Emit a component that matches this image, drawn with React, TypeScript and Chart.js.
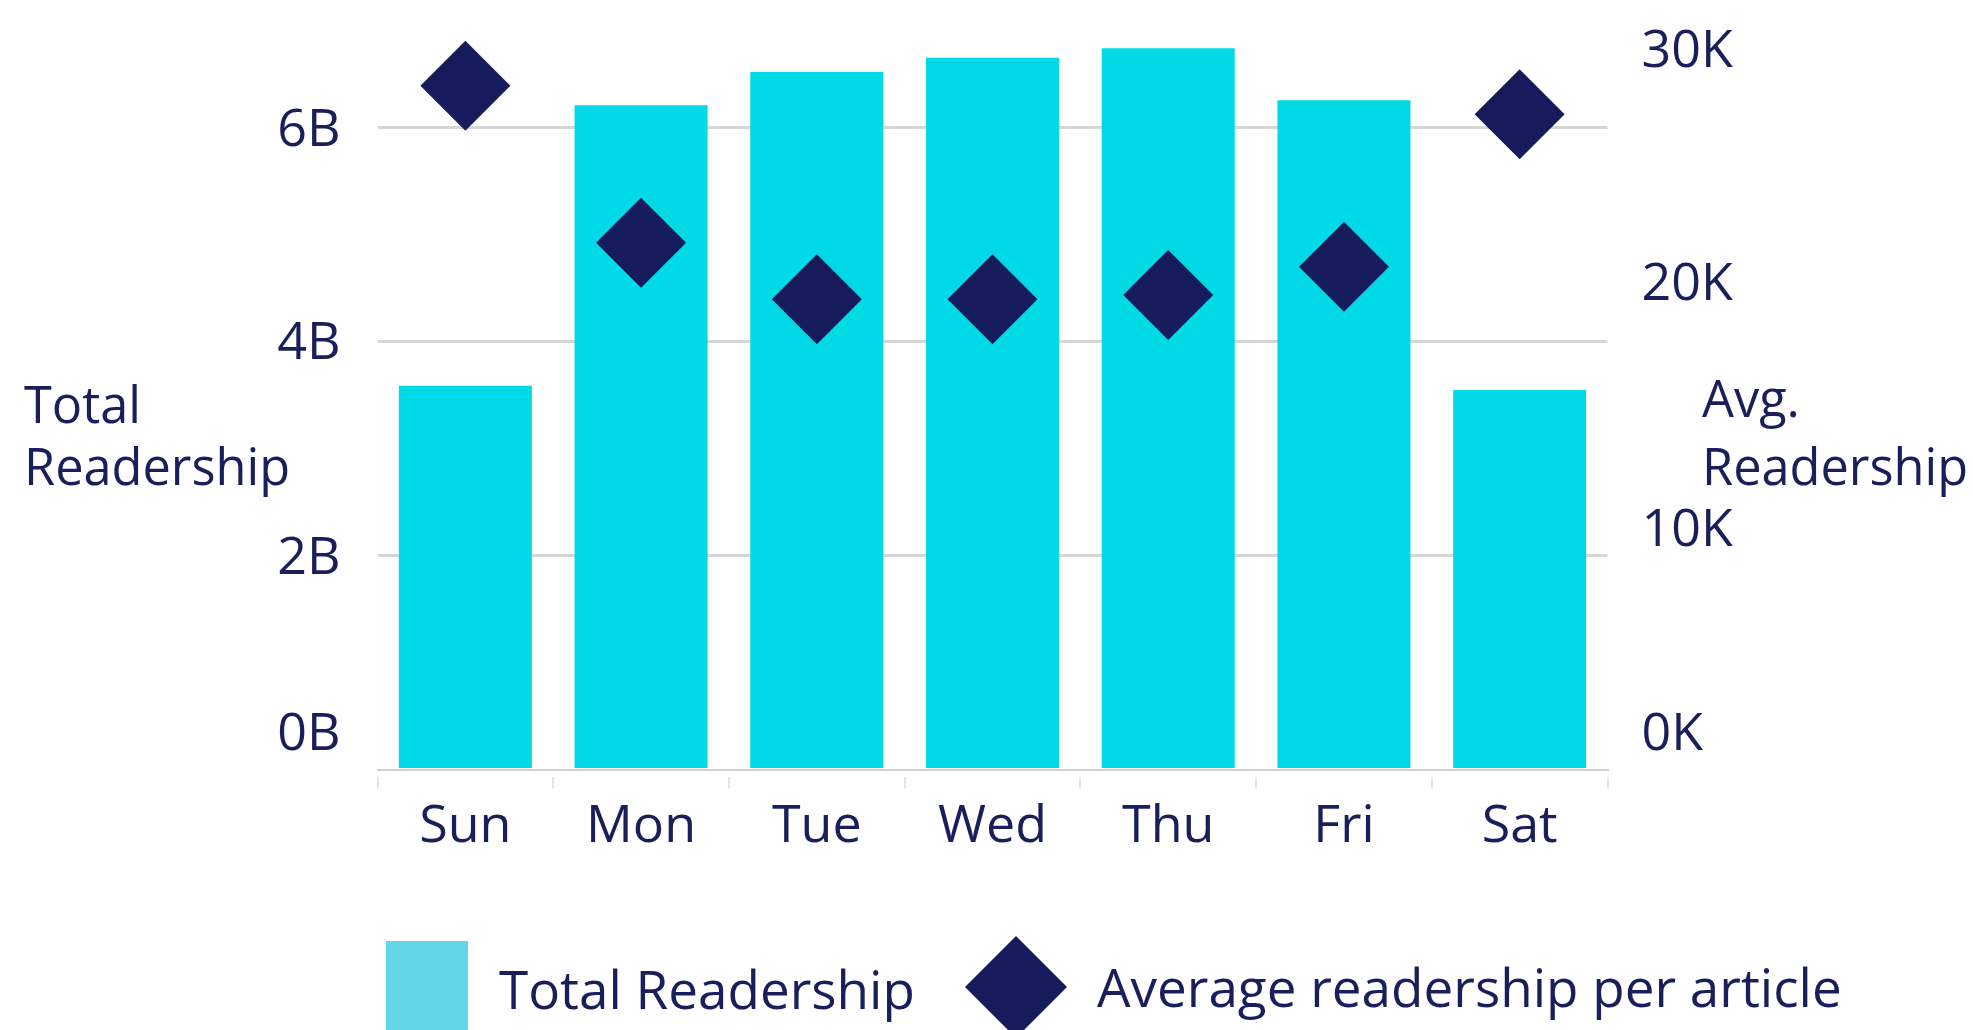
import React, { useEffect, useRef } from 'react';
import { Chart, registerables } from 'chart.js';

Chart.register(...registerables);

const days = ['Sun', 'Mon', 'Tue', 'Wed', 'Thu', 'Fri', 'Sat'];
const totalReadership = [3.587e9, 6.207e9, 6.519e9, 6.652e9, 6.74e9, 6.254e9, 3.547e9];
const avgReadership = [28080, 21630, 19310, 19310, 19490, 20650, 26910];
const leftTicks = [0, 2e9, 4e9, 6e9];
const rightTicks = [0, 10000, 20000, 30000];
const leftTitle = ['Total', 'Readership'];
const rightTitle = ['Avg.', 'Readership'];
const seriesLabels = ['Total Readership', 'Average readership per article'];

const NAVY = '#1a1f5c';
const DIAMOND = '#161c5b';
const CYAN = '#00d9e6';
const CYAN_LEGEND = '#62d7e5';
const FAMILY = '"Open Sans", "Noto Sans", sans-serif';
const FONT_SIZE = 52;
const TITLE_SIZE = 50.5;
const LEGEND_SIZE = 53;

// vertical nudges (px, positive = down) applied to tick labels, mimicking the original's label placement
const leftLabelShift: Record<number, number> = { 0: -34, 2e9: 4, 4e9: 3, 6e9: 4 };
const rightLabelShift: Record<number, number> = { 0: -34, 10000: 5, 20000: 2.5, 30000: 13 };

const overlayPlugin = {
  id: 'overlayTexts',
  afterDraw(chart: any) {
    const ctx = chart.ctx;
    ctx.save();
    ctx.fillStyle = NAVY;
    ctx.textBaseline = 'middle';
    ctx.textAlign = 'left';
    // axis titles
    ctx.font = `${TITLE_SIZE}px ${FAMILY}`;
    ctx.fillText(leftTitle[0], 24, 409);
    ctx.fillText(leftTitle[1], 24, 471);
    ctx.fillText(rightTitle[0], 1702, 403);
    ctx.fillText(rightTitle[1], 1702, 471);
    // legend
    ctx.font = `${LEGEND_SIZE}px ${FAMILY}`;
    const ds = chart.data.datasets;
    ctx.fillStyle = CYAN_LEGEND;
    ctx.fillRect(386, 941, 82, 100);
    ctx.fillStyle = NAVY;
    ctx.fillText(ds[0].label, 499, 994);
    ctx.fillStyle = DIAMOND;
    const cx = 1016, cy = 987, r = 51;
    ctx.beginPath();
    ctx.moveTo(cx - r, cy);
    ctx.lineTo(cx, cy - r);
    ctx.lineTo(cx + r, cy);
    ctx.lineTo(cx, cy + r);
    ctx.closePath();
    ctx.fill();
    ctx.fillStyle = NAVY;
    ctx.fillText(ds[1].label, 1097, 992);
    ctx.restore();
  },
};

function tickFont(shift: Record<number, number>) {
  return (c: any) => {
    const v = c && c.tick ? c.tick.value : null;
    const s = v !== null && shift[v] !== undefined ? Math.abs(shift[v]) : 0;
    return { family: FAMILY, size: FONT_SIZE, lineHeight: s > 0 ? `${2 * s}px` : 1.2 };
  };
}

function shiftedLabel(shift: Record<number, number>, text: string, v: number) {
  const s = shift[v] || 0;
  if (s > 0) return ['', text];
  if (s < 0) return [text, ''];
  return text;
}

export default function App() {
  const canvasRef = useRef<HTMLCanvasElement | null>(null);

  useEffect(() => {
    if (!canvasRef.current) return;
    const chart = new Chart(canvasRef.current, {
      type: 'bar',
      data: {
        labels: days,
        datasets: [
          {
            type: 'bar',
            label: seriesLabels[0],
            data: totalReadership,
            yAxisID: 'y',
            backgroundColor: CYAN,
            barPercentage: 0.757,
            categoryPercentage: 1,
            order: 2,
          } as any,
          {
            type: 'line',
            label: seriesLabels[1],
            data: avgReadership,
            yAxisID: 'y1',
            showLine: false,
            pointStyle: 'rectRot',
            pointRadius: 45,
            pointHoverRadius: 45,
            pointBackgroundColor: DIAMOND,
            pointBorderColor: DIAMOND,
            pointBorderWidth: 0,
            clip: false,
            order: 1,
          } as any,
        ],
      },
      options: {
        responsive: false,
        animation: false,
        layout: { autoPadding: false, padding: { top: 39, left: 0, right: 0, bottom: 0 } },
        plugins: {
          legend: { display: false },
          tooltip: { enabled: false },
        },
        scales: {
          x: {
            offset: true,
            grid: {
              offset: true,
              drawOnChartArea: false,
              drawTicks: true,
              tickLength: 19,
              lineWidth: 2,
              tickWidth: 2,
              tickColor: '#e4e4e4',
              tickBorderDash: [0, 6, 13, 100],
            },
            border: { display: true, color: '#cfcfcf', width: 2, dash: [6, 5] },
            ticks: {
              color: NAVY,
              padding: 7,
              font: { family: FAMILY, size: FONT_SIZE },
              maxRotation: 0,
            },
            afterFit: (s: any) => {
              s.height = 260.5;
            },
          },
          y: {
            position: 'left',
            min: 0,
            max: 6.827e9,
            afterBuildTicks: (s: any) => {
              s.ticks = leftTicks.map((v) => ({ value: v }));
            },
            grid: {
              color: (c: any) => (c.tick && c.tick.value === 0 ? 'rgba(0,0,0,0)' : '#d6d6d6'),
              lineWidth: 3,
              drawTicks: false,
            },
            border: { display: false },
            ticks: {
              color: NAVY,
              padding: 37,
              font: tickFont(leftLabelShift) as any,
              callback: (v: any) => shiftedLabel(leftLabelShift, `${v / 1e9}B`, v),
            },
            afterFit: (s: any) => {
              s.width = 377.5;
              s.paddingTop = 0;
              s.paddingBottom = 0;
            },
          },
          y1: {
            position: 'right',
            min: 0,
            max: 30000,
            afterBuildTicks: (s: any) => {
              s.ticks = rightTicks.map((v) => ({ value: v }));
            },
            grid: { display: false, drawTicks: false },
            border: { display: false },
            ticks: {
              color: NAVY,
              padding: 34,
              font: tickFont(rightLabelShift) as any,
              callback: (v: any) => shiftedLabel(rightLabelShift, `${v / 1000}K`, v),
            },
            afterFit: (s: any) => {
              s.width = 365.5;
              s.paddingTop = 0;
              s.paddingBottom = 0;
            },
          },
        },
      } as any,
      plugins: [overlayPlugin],
    });
    return () => chart.destroy();
  }, []);

  return (
    <div
      style={{
        position: 'fixed',
        left: 0,
        top: 0,
        width: 1973,
        height: 1030,
        background: '#ffffff',
        overflow: 'hidden',
      }}
    >
      <canvas ref={canvasRef} width={1973} height={1030} style={{ display: 'block' }} />
    </div>
  );
}
